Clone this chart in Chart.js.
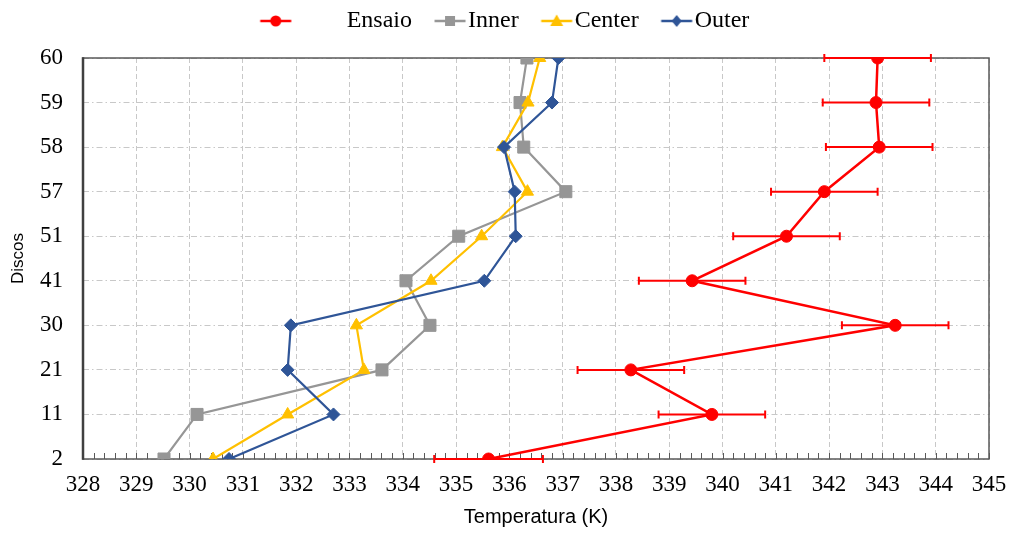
<!DOCTYPE html>
<html>
<head>
<meta charset="utf-8">
<script src="https://cdn.jsdelivr.net/npm/chart.js@4.4.1/dist/chart.umd.min.js"></script>
<style>
  html, body { margin: 0; padding: 0; background: #ffffff; }
  #wrap { position: relative; width: 1011px; height: 534px; }
</style>
</head>
<body>
<div id="wrap"><canvas id="c"></canvas></div>
<script>
// ---- data ----
const categories = ['2', '11', '21', '30', '41', '51', '57', '58', '59', '60'];
const ensaio    = [335.61, 339.80, 338.28, 343.24, 339.43, 341.20, 341.91, 342.94, 342.88, 342.91];
const ensaioErr = [1.02, 1.00, 1.00, 1.00, 1.00, 1.00, 1.00, 1.00, 1.00, 1.00];
const inner     = [329.52, 330.14, 333.61, 334.51, 334.06, 335.05, 337.06, 336.27, 336.20, 336.33];
const center    = [330.44, 331.84, 333.27, 333.13, 334.53, 335.48, 336.34, 335.87, 336.35, 336.57];
const outer     = [330.74, 332.70, 331.84, 331.90, 335.53, 336.12, 336.10, 335.90, 336.80, 336.92];
const xTickValues = [328, 329, 330, 331, 332, 333, 334, 335, 336, 337, 338, 339, 340, 341, 342, 343, 344, 345];
const seriesNames = ['Ensaio', 'Inner', 'Center', 'Outer'];

const COLORS = { ensaio: '#ff0000', inner: '#969696', center: '#ffc000', outer: '#2f5597' };
const SERIF = "'Liberation Serif', 'Times New Roman', serif";
const SANS = "'Liberation Sans', Arial, sans-serif";

const toPoints = arr => arr.map((v, i) => ({ x: v, y: i }));

// ---- legend marker images (line + marker) ----
function drawMarker(ctx, style, cx, cy, color) {
  ctx.fillStyle = color;
  ctx.beginPath();
  if (style === 'circle') {
    ctx.arc(cx, cy, 5.5, 0, Math.PI * 2);
  } else if (style === 'rect') {
    ctx.rect(cx - 5, cy - 5, 10, 10);
  } else if (style === 'triangle') {
    ctx.moveTo(cx, cy - 6.5); ctx.lineTo(cx + 6.5, cy + 5); ctx.lineTo(cx - 6.5, cy + 5); ctx.closePath();
  } else if (style === 'rectRot') {
    ctx.moveTo(cx, cy - 6); ctx.lineTo(cx + 5, cy); ctx.lineTo(cx, cy + 6); ctx.lineTo(cx - 5, cy); ctx.closePath();
  }
  ctx.fill();
}
function legendIcon(style, color, width, markerX) {
  const cv = document.createElement('canvas');
  cv.width = width; cv.height = 16;
  const c = cv.getContext('2d');
  c.strokeStyle = color; c.lineWidth = 2.5;
  c.beginPath(); c.moveTo(markerX - 15.5, 8); c.lineTo(markerX + 15.5, 8); c.stroke();
  drawMarker(c, style, markerX, 8, color);
  return cv;
}
const legendIcons = [
  legendIcon('circle', COLORS.ensaio, 146, 20),
  legendIcon('rect', COLORS.inner, 34, 17),
  legendIcon('triangle', COLORS.center, 34, 17),
  legendIcon('rectRot', COLORS.outer, 34, 17)
];

// ---- plugins: spacer under legend, frame + inward minor ticks, error bars ----
const spacerPlugin = {
  id: 'legendSpacer',
  beforeInit(chart) {
    const box = {
      position: 'top', weight: 1, fullSize: false,
      options: { stackWeight: 1 },
      top: 0, left: 0, right: 0, bottom: 0, width: 0, height: 0,
      update(maxWidth) { this.width = maxWidth; this.height = 15; return { width: this.width, height: this.height }; },
      isHorizontal() { return true; },
      getPadding() { return { top: 0, left: 0, right: 0, bottom: 0 }; },
      draw() {}
    };
    Chart.layouts.addBox(chart, box);
  }
};
const framePlugin = {
  id: 'frame',
  beforeDatasetsDraw(chart) {
    const { ctx, chartArea: { left, right, top, bottom }, scales: { x } } = chart;
    ctx.save();
    ctx.strokeStyle = '#595959';
    ctx.lineWidth = 1;
    const first = xTickValues[0], last = xTickValues[xTickValues.length - 1];
    const minorStep = 0.2;
    const n = Math.round((last - first) / minorStep);
    for (let k = 0; k <= n; k++) {
      const px = Math.round(x.getPixelForValue(first + k * minorStep)) + 0.5;
      ctx.beginPath(); ctx.moveTo(px, bottom); ctx.lineTo(px, bottom - 6); ctx.stroke();
    }
    ctx.lineWidth = 1.5;
    ctx.strokeRect(left, top, right - left, bottom - top);
    ctx.strokeStyle = '#404040';
    ctx.lineWidth = 2.5;
    ctx.beginPath(); ctx.moveTo(left, top - 0.75); ctx.lineTo(left, bottom + 0.75); ctx.stroke();
    ctx.restore();
  }
};
const errorBarPlugin = {
  id: 'errorBars',
  afterDatasetsDraw(chart) {
    const { ctx, scales: { x, y } } = chart;
    ctx.save();
    ctx.strokeStyle = COLORS.ensaio;
    ctx.lineWidth = 2;
    ensaio.forEach((v, i) => {
      const py = y.getPixelForValue(i);
      const x1 = x.getPixelForValue(v - ensaioErr[i]);
      const x2 = x.getPixelForValue(v + ensaioErr[i]);
      ctx.beginPath();
      ctx.moveTo(x1, py); ctx.lineTo(x2, py);
      ctx.moveTo(x1, py - 4); ctx.lineTo(x1, py + 4);
      ctx.moveTo(x2, py - 4); ctx.lineTo(x2, py + 4);
      ctx.stroke();
    });
    ctx.restore();
  }
};

const ds = (label, arr, color, style, radius, order, bw) => ({
  label, data: toPoints(arr), borderColor: color, backgroundColor: color,
  borderWidth: bw, pointStyle: style, pointRadius: radius, pointHoverRadius: radius,
  pointBackgroundColor: color, pointBorderColor: color, pointBorderWidth: 1,
  tension: 0, fill: false, order
});

new Chart(document.getElementById('c'), {
  type: 'line',
  data: {
    datasets: [
      ds(seriesNames[0], ensaio, COLORS.ensaio, 'circle', 6, 0, 2.5),
      ds(seriesNames[1], inner, COLORS.inner, 'rect', 8.5, 3, 2.2),
      ds(seriesNames[2], center, COLORS.center, 'triangle', 7, 2, 2.2),
      ds(seriesNames[3], outer, COLORS.outer, 'rectRot', 6.5, 1, 2.2)
    ]
  },
  options: {
    responsive: true,
    maintainAspectRatio: false,
    animation: false,
    layout: { padding: { top: -23, left: 0, right: 22, bottom: 0 } },
    plugins: {
      tooltip: { enabled: false },
      legend: {
        position: 'top',
        fullSize: false,
        labels: {
          usePointStyle: true,
          pointStyleWidth: 12,
          padding: 32,
          color: '#000000',
          font: { family: SERIF, size: 24 },
          generateLabels: () => seriesNames.map((name, i) => ({
            text: name, pointStyle: legendIcons[i], datasetIndex: i,
            fillStyle: 'transparent', strokeStyle: 'transparent', lineWidth: 0,
            hidden: false, fontColor: '#000000'
          }))
        }
      }
    },
    scales: {
      x: {
        type: 'linear',
        min: xTickValues[0],
        max: xTickValues[xTickValues.length - 1],
        afterFit: s => { s.height = 75; s.paddingLeft = 0; s.paddingRight = 0; },
        afterBuildTicks: s => { s.ticks = xTickValues.map(v => ({ value: v })); },
        ticks: {
          color: '#000000', font: { family: SERIF, size: 23 }, padding: 12,
          maxRotation: 0, autoSkip: false, callback: v => String(v)
        },
        grid: { color: '#c8c8c8', lineWidth: 1, drawTicks: false },
        border: { display: false, dash: [5, 3] },
        title: {
          display: true, text: 'Temperatura (K)', color: '#000000',
          font: { family: SANS, size: 20 }, padding: { top: 0, bottom: 5 }
        }
      },
      y: {
        type: 'linear',
        min: 0,
        max: categories.length - 1,
        afterFit: s => { s.width = 83; },
        ticks: {
          stepSize: 1, color: '#000000', font: { family: SERIF, size: 23 }, padding: 20,
          autoSkip: false, callback: v => categories[v]
        },
        grid: { color: '#c8c8c8', lineWidth: 1, drawTicks: false },
        border: { display: false, dash: [6, 3, 1.5, 3] },
        title: {
          display: true, text: 'Discos', color: '#000000',
          font: { family: SANS, size: 17 }, padding: { top: 8, bottom: 0 }
        }
      }
    }
  },
  plugins: [spacerPlugin, framePlugin, errorBarPlugin]
});
</script>
</body>
</html>
